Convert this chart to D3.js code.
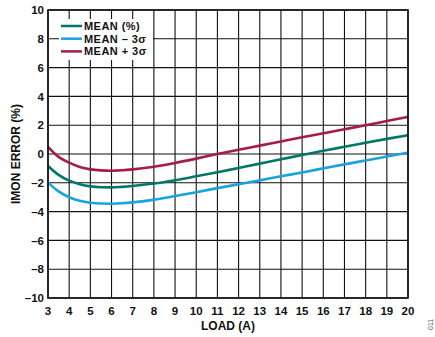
<!DOCTYPE html>
<html>
<head>
<meta charset="utf-8">
<script src="https://cdn.jsdelivr.net/npm/d3@7"></script>
<style>
body{margin:0;background:#fff;}
svg text{font-family:"Liberation Sans",Arial,sans-serif;font-weight:bold;}
</style>
</head>
<body>
<div id="chart"></div>
<script>
// load values
var loadA=[3,3.5,4,4.5,5,5.5,6,6.5,7,8,9,10,11,12,13,14,15,16,17,18,19,20]
var meanPct=[-0.83,-1.45,-1.85,-2.1,-2.25,-2.31,-2.32,-2.28,-2.22,-2.05,-1.82,-1.55,-1.27,-0.97,-0.67,-0.37,-0.07,0.22,0.5,0.78,1.05,1.3]
var meanMinus3s=[-1.99,-2.6,-3.0,-3.25,-3.38,-3.44,-3.45,-3.42,-3.36,-3.17,-2.92,-2.65,-2.37,-2.1,-1.83,-1.55,-1.28,-1.0,-0.72,-0.45,-0.18,0.09]
var meanPlus3s=[0.5,-0.2,-0.6,-0.9,-1.07,-1.14,-1.16,-1.13,-1.07,-0.88,-0.62,-0.32,0,0.3,0.58,0.87,1.16,1.44,1.72,2.0,2.29,2.58]
var xTicks=[3,4,5,6,7,8,9,10,11,12,13,14,15,16,17,18,19,20]
var yTicks=[-10,-8,-6,-4,-2,0,2,4,6,8,10]
var seriesNames=["MEAN (%)","MEAN \u2013 3\u03c3","MEAN + 3\u03c3"]
var seriesColors=["#00776b","#1aa3dd","#a31c4a"]
var seriesData=[meanPct,meanMinus3s,meanPlus3s]

var W=435,H=337
var m={left:48,top:10,right:27,bottom:39}
var svg=d3.select("#chart").append("svg").attr("width",W).attr("height",H)

var x=d3.scaleLinear().domain([3,20]).range([m.left,W-m.right])
var y=d3.scaleLinear().domain([-10,10]).range([H-m.bottom,m.top])

//grid
var g=svg.append("g")
g.selectAll(".vg").data(xTicks).enter().append("line")
  .attr("x1",d=>x(d)).attr("x2",d=>x(d)).attr("y1",y(-10)).attr("y2",y(10))
  .attr("stroke","#111").attr("stroke-width",1.1)
g.selectAll(".hg").data(yTicks).enter().append("line")
  .attr("y1",d=>y(d)).attr("y2",d=>y(d)).attr("x1",x(3)).attr("x2",x(20))
  .attr("stroke","#111").attr("stroke-width",1.1)

//legend box (white, hides grid)
var lg=svg.append("g")
lg.append("rect").attr("x",59).attr("y",19).attr("width",94).attr("height",41).attr("fill","#fff")
seriesNames.forEach(function(n,i){
  var yy=26+i*12.7
  lg.append("line").attr("x1",61).attr("x2",82).attr("y1",yy).attr("y2",yy)
    .attr("stroke",seriesColors[i]).attr("stroke-width",2.5)
  lg.append("text").attr("x",84).attr("y",yy+4).attr("font-size",11).attr("letter-spacing",0.45)
    .attr("fill","#111").text(n)
})

//curves
var line=d3.line().x((d,i)=>x(loadA[i])).y(d=>y(d)).curve(d3.curveMonotoneX)
seriesData.forEach(function(s,i){
  svg.append("path").attr("d",line(s)).attr("fill","none")
    .attr("stroke",seriesColors[i]).attr("stroke-width",2.6)
})

//border
svg.append("rect").attr("x",x(3)).attr("y",y(10)).attr("width",x(20)-x(3)).attr("height",y(-10)-y(10))
  .attr("fill","none").attr("stroke","#111").attr("stroke-width",1.6)

//ticks text
svg.selectAll(".yt").data(yTicks).enter().append("text")
  .attr("x",44).attr("y",d=>y(d)+4.2).attr("text-anchor","end").attr("font-size",11.5).attr("fill","#111")
  .text(d=>d<0?"\u2013"+Math.abs(d):d)
svg.selectAll(".xt").data(xTicks).enter().append("text")
  .attr("x",d=>x(d)).attr("y",H-m.bottom+17).attr("text-anchor","middle").attr("font-size",11.5).attr("fill","#111")
  .text(d=>d)

svg.append("text").attr("x",(x(3)+x(20))/2).attr("y",330).attr("text-anchor","middle")
  .attr("font-size",12).attr("fill","#111").text("LOAD (A)")
svg.append("text").attr("transform","translate(20,"+y(0)+") rotate(-90)").attr("text-anchor","middle")
  .attr("font-size",12).attr("fill","#111").text("IMON ERROR (%)")
svg.append("text").attr("transform","translate(433,330) rotate(-90)").attr("text-anchor","start")
  .attr("font-size",7).attr("fill","#555").style("font-weight","normal").text("011")
</script>
</body>
</html>
